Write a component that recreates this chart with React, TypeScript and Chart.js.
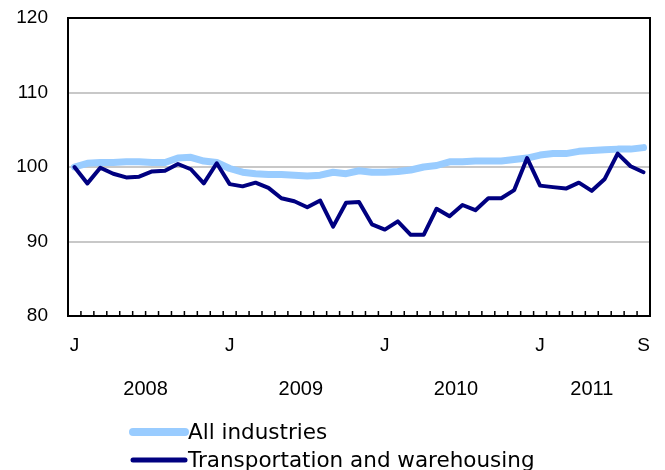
import React, { useEffect, useRef } from 'react';
import { Chart, registerables } from 'chart.js';

Chart.register(...registerables);

const years = ['2008', '2009', '2010', '2011'];
const monthsPerYear = [12, 12, 12, 9];

const categories: string[] = [];
const xTickLabels: string[] = [];
years.forEach((y, yi) => {
  for (let m = 1; m <= monthsPerYear[yi]; m++) {
    categories.push(`${y}-${String(m).padStart(2, '0')}`);
    xTickLabels.push(m === 1 ? 'J' : '');
  }
});
xTickLabels[xTickLabels.length - 1] = 'S';

const allIndustries = [
  100.0, 100.5, 100.6, 100.6, 100.7, 100.7, 100.6, 100.6, 101.2, 101.3, 100.8, 100.6,
  99.8, 99.3, 99.1, 99.0, 99.0, 98.9, 98.8, 98.9, 99.3, 99.1, 99.5, 99.3,
  99.3, 99.4, 99.6, 100.0, 100.2, 100.7, 100.7, 100.8, 100.8, 100.8, 101.0, 101.2,
  101.6, 101.8, 101.8, 102.1, 102.2, 102.3, 102.4, 102.4, 102.6,
];

const transportation = [
  100.0, 97.8, 99.9, 99.1, 98.6, 98.7, 99.4, 99.5, 100.4, 99.7, 97.8, 100.5,
  97.7, 97.4, 97.9, 97.2, 95.8, 95.4, 94.6, 95.5, 92.0, 95.2, 95.3, 92.3,
  91.6, 92.7, 90.9, 90.9, 94.4, 93.4, 94.9, 94.2, 95.8, 95.8, 96.9, 101.2,
  97.5, 97.3, 97.1, 97.9, 96.8, 98.4, 101.8, 100.1, 99.3,
];

const seriesLabels = ['All industries', 'Transportation and warehousing'];
const seriesColors = ['#99CCFF', '#000080'];
const seriesWidths = [7, 4];

const axisFamily = '"Liberation Sans", Arial, sans-serif';
const yearFont = '20px "Liberation Sans", Arial, sans-serif';
const legendFont = '21.5px "DejaVu Sans", Verdana, sans-serif';

const framePlugin = {
  id: 'frame',
  afterDatasetsDraw(chart: any) {
    const { ctx, chartArea } = chart;
    const x = chart.scales.x;
    ctx.save();
    ctx.strokeStyle = '#000';
    ctx.lineWidth = 2;
    ctx.beginPath();
    ctx.moveTo(chartArea.left, chartArea.top);
    ctx.lineTo(chartArea.right, chartArea.top);
    ctx.lineTo(chartArea.right, chartArea.bottom);
    ctx.stroke();
    // inward tick marks at category boundaries
    ctx.lineWidth = 1.5;
    ctx.beginPath();
    for (let i = 0; i < categories.length - 1; i++) {
      const px = (x.getPixelForValue(i) + x.getPixelForValue(i + 1)) / 2;
      ctx.moveTo(px, chartArea.bottom);
      ctx.lineTo(px, chartArea.bottom - 5);
    }
    ctx.stroke();
    ctx.restore();
  },
  afterDraw(chart: any) {
    const { ctx } = chart;
    const x = chart.scales.x;
    ctx.save();
    // year labels
    ctx.font = yearFont;
    ctx.fillStyle = '#000';
    ctx.textAlign = 'center';
    ctx.textBaseline = 'middle';
    let start = 0;
    years.forEach((y, yi) => {
      const end = start + monthsPerYear[yi] - 1;
      const cx = (x.getPixelForValue(start) + x.getPixelForValue(end)) / 2;
      ctx.fillText(y, cx, 389);
      start = end + 1;
    });
    // legend
    ctx.font = legendFont;
    ctx.textAlign = 'left';
    const rows = [432, 460];
    seriesLabels.forEach((lab, i) => {
      ctx.strokeStyle = seriesColors[i];
      ctx.lineWidth = seriesWidths[i] + 1;
      ctx.lineCap = 'round';
      ctx.beginPath();
      ctx.moveTo(133, rows[i]);
      ctx.lineTo(185, rows[i]);
      ctx.stroke();
      ctx.fillStyle = '#000';
      ctx.fillText(lab, 188, rows[i] + 1);
    });
    ctx.restore();
  },
};

export default function App() {
  const ref = useRef<HTMLCanvasElement | null>(null);
  useEffect(() => {
    document.body.style.margin = '0';
    const canvas = ref.current;
    if (!canvas) return;
    const chart = new Chart(canvas, {
      type: 'line',
      data: {
        labels: categories,
        datasets: [
          {
            label: seriesLabels[0],
            data: allIndustries,
            borderColor: seriesColors[0],
            backgroundColor: seriesColors[0],
            borderWidth: seriesWidths[0],
            pointRadius: 0,
            tension: 0,
            borderCapStyle: 'round',
            borderJoinStyle: 'round',
            order: 1,
          },
          {
            label: seriesLabels[1],
            data: transportation,
            borderColor: seriesColors[1],
            backgroundColor: seriesColors[1],
            borderWidth: seriesWidths[1],
            pointRadius: 0,
            tension: 0,
            borderCapStyle: 'round',
            borderJoinStyle: 'round',
            order: 0,
          },
        ],
      },
      options: {
        responsive: false,
        animation: false,
        layout: { autoPadding: false, padding: { top: 18, right: 15, bottom: 0, left: 0 } },
        plugins: {
          legend: { display: false },
          tooltip: { enabled: false },
        },
        scales: {
          x: {
            type: 'category',
            offset: true,
            grid: { display: false, drawTicks: false },
            border: { color: '#000', width: 2 },
            ticks: {
              autoSkip: false,
              maxRotation: 0,
              minRotation: 0,
              padding: 18,
              color: '#000',
              font: { family: axisFamily, size: 19 },
              callback: (_v: any, i: number) => xTickLabels[i],
            },
            afterFit: (s: any) => {
              s.height = 154;
              s.paddingLeft = 0;
              s.paddingRight = 0;
            },
          },
          y: {
            min: 80,
            max: 120,
            ticks: {
              stepSize: 10,
              padding: 20,
              color: '#000',
              font: { family: axisFamily, size: 19 },
            },
            grid: { color: '#C8C8C8', lineWidth: 2, drawTicks: false },
            border: { color: '#000', width: 2 },
            afterFit: (s: any) => {
              s.width = 68;
              s.paddingTop = 0;
              s.paddingBottom = 0;
            },
          },
        },
      },
      plugins: [framePlugin],
    });
    return () => chart.destroy();
  }, []);
  return (
    <div style={{ width: 665, height: 470 }}>
      <canvas ref={ref} width={665} height={470} style={{ display: 'block' }} />
    </div>
  );
}
